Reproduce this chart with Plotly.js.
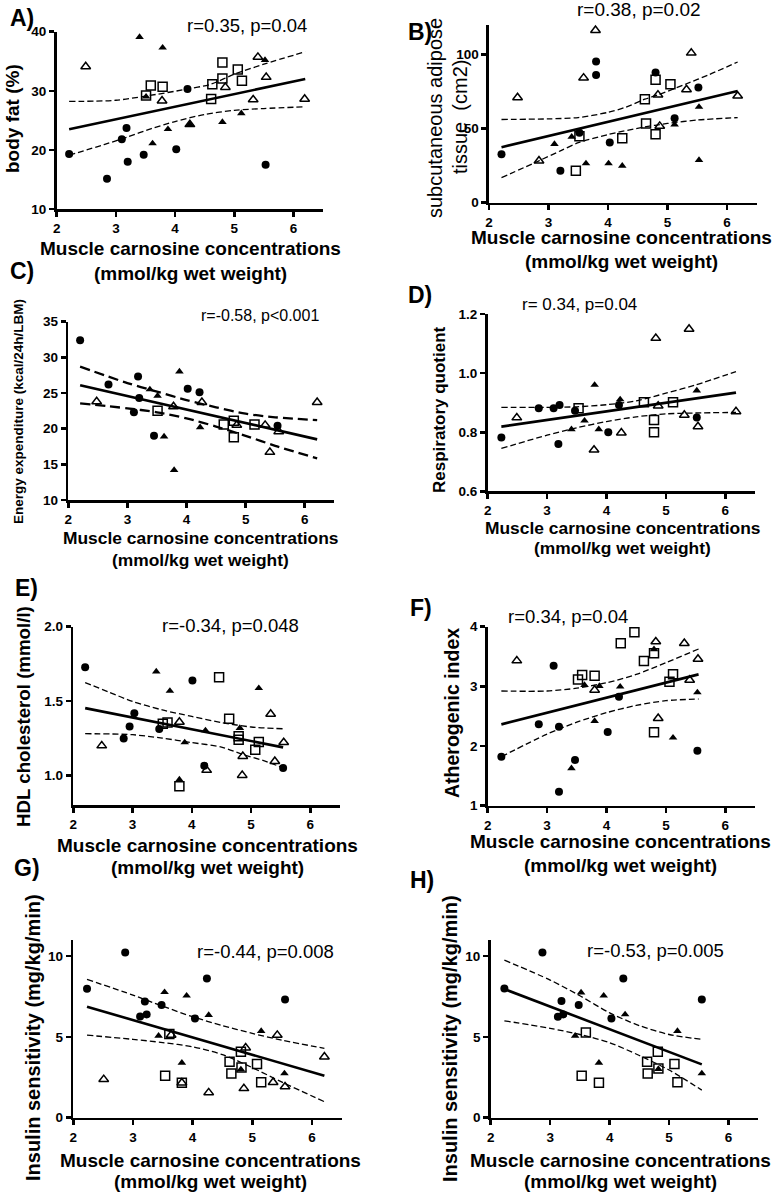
<!DOCTYPE html>
<html><head><meta charset="utf-8">
<script src="https://cdn.plot.ly/plotly-3.0.1.min.js"></script>
<style>html,body{margin:0;padding:0;background:#fff}#chart{width:780px;height:1193px}</style>
</head><body><div id="chart"></div>
<script>
// ===== DATA =====
// x = muscle carnosine (mmol/kg wet weight)
// A) body fat (%)
const aCircleX = [2.21,2.85,3.10,3.18,3.20,3.47,4.02,4.21,5.53];
const aCircleY = [19.3,15.1,21.8,23.7,18.0,19.2,20.1,30.3,17.5];
const aTriX = [3.40,3.79,3.51,3.62,3.88,4.25,4.80,5.12,5.52];
const aTriY = [39.1,37.3,29.0,21.1,23.5,24.3,24.7,26.2,35.2];
const aOpenTriX = [2.49,3.78,4.25,4.85,5.32,5.40,5.54,6.19];
const aOpenTriY = [34.1,28.3,24.3,30.6,28.5,35.7,32.3,28.6];
const aSquareX = [3.51,3.59,3.79,4.61,4.63,4.80,4.80,5.06,5.13];
const aSquareY = [29.2,30.9,30.7,28.6,31.1,34.8,32.1,33.6,31.7];
const aFitX = [2.21,6.20], aFitY = [23.5,32.0];
const aUpperX = [2.21,3.0,3.5,4.21,4.6,5.0,5.5,6.2], aUpperY = [28.2,28.4,29.1,30.3,31.1,32.8,34.5,36.6];
const aLowerX = [2.21,2.8,3.2,3.6,4.0,4.5,5.0,5.5,6.2], aLowerY = [19.1,20.9,22.2,23.6,24.8,26.0,26.7,27.0,27.3];

// B) subcutaneous adipose tissue (cm2)
const bCircleX = [2.21,3.20,3.52,3.80,3.80,4.03,4.80,5.12,5.52];
const bCircleY = [32.8,21.6,47.2,95.3,86.3,40.7,87.9,57.1,77.8];
const bTriX = [3.10,3.39,3.63,4.01,4.24,5.12,5.53,5.53];
const bTriY = [39.6,44.5,26.5,26.5,24.9,52.8,64.7,28.8];
const bOpenTriX = [2.48,2.84,3.59,3.79,4.84,4.87,5.32,5.40,6.18];
const bOpenTriY = [71.0,28.3,84.3,116.4,72.8,51.7,76.4,101.1,72.1];
const bSquareX = [3.46,3.52,4.24,4.62,4.64,4.80,4.80,5.05];
const bSquareY = [21.6,44.9,43.6,69.9,53.5,83.1,46.3,80.0];
const bFitX = [2.21,6.18], bFitY = [37.5,75.5];
const bUpperX = [2.21,3.0,3.5,4.0,4.3,4.62,4.84,5.3,5.7,6.18], bUpperY = [56.2,56.6,57.5,61.0,64.5,69.9,72.8,80.0,86.5,95.0];
const bLowerX = [2.21,2.84,3.2,3.5,4.0,4.6,5.0,5.5,6.18], bLowerY = [16.9,28.3,35.0,40.5,46.0,51.0,53.5,55.8,57.5];

// C) energy expenditure (kcal/24h/LBM)
const cCircleX = [2.20,2.68,3.18,3.20,3.11,3.45,4.02,4.22,5.54];
const cCircleY = [32.4,26.2,27.3,24.3,22.3,19.0,25.6,25.1,20.4];
const cTriX = [3.38,3.51,3.62,3.79,3.88,4.23];
const cTriY = [25.5,24.6,18.9,14.2,28.0,20.2];
const cOpenTriX = [2.48,3.78,4.26,4.85,5.33,5.41,5.56,6.21];
const cOpenTriY = [23.8,23.1,23.7,20.5,20.5,16.7,19.6,23.7];
const cSquareX = [3.51,4.63,4.80,4.80,5.15];
const cSquareY = [22.5,20.6,21.1,18.8,20.6];
const cFitX = [2.20,6.21], cFitY = [26.1,18.5];
const cUpperX = [2.2,3.0,3.5,4.0,4.5,5.0,5.5,6.21], cUpperY = [28.7,26.4,25.2,24.0,23.0,22.1,21.6,21.2];
const cLowerX = [2.2,3.0,3.5,4.0,4.5,5.0,5.5,6.21], cLowerY = [23.55,22.85,22.3,21.45,20.3,19.0,17.6,15.85];

// D) respiratory quotient
const dCircleX = [2.23,2.86,3.11,3.21,3.19,3.47,4.03,4.21,5.52];
const dCircleY = [0.782,0.881,0.881,0.892,0.760,0.873,0.800,0.892,0.850];
const dTriX = [3.41,3.63,3.80,3.87,4.23,5.52];
const dTriY = [0.810,0.839,0.960,0.810,0.911,0.941];
const dOpenTriX = [2.49,3.79,4.25,4.83,4.87,5.31,5.39,5.54,6.18];
const dOpenTriY = [0.849,0.740,0.798,1.118,0.889,0.858,1.149,0.819,0.870];
const dSquareX = [3.53,4.63,4.80,4.80,5.12];
const dSquareY = [0.881,0.901,0.841,0.800,0.901];
const dFitX = [2.23,6.18], dFitY = [0.819,0.934];
const dUpperX = [2.23,3.0,3.5,4.0,4.5,5.0,5.5,6.18], dUpperY = [0.884,0.884,0.886,0.893,0.906,0.932,0.960,1.005];
const dLowerX = [2.23,3.0,3.5,4.0,4.5,5.0,5.5,6.18], dLowerY = [0.745,0.790,0.815,0.836,0.852,0.862,0.865,0.867];

// E) HDL cholesterol (mmol/l)
const eCircleX = [2.20,2.85,2.95,3.03,3.45,4.01,4.21,5.54];
const eCircleY = [1.727,1.248,1.329,1.418,1.311,1.638,1.065,1.049];
const eTriX = [3.40,3.63,3.88,4.23,4.81,5.13,3.79];
const eTriY = [1.698,1.568,1.221,1.302,1.318,1.586,0.971];
const eOpenTriX = [2.48,3.79,4.25,4.85,4.86,5.40,5.33,5.55];
const eOpenTriY = [1.199,1.358,1.034,1.000,1.128,1.094,1.412,1.221];
const eSquareX = [3.51,3.59,3.79,4.46,4.63,4.79,4.79,5.07,5.13];
const eSquareY = [1.347,1.356,0.926,1.660,1.380,1.262,1.239,1.172,1.224];
const eFitX = [2.20,5.54], eFitY = [1.452,1.188];
const eUpperX = [2.2,2.6,3.0,3.5,4.0,4.5,5.0,5.54], eUpperY = [1.624,1.560,1.497,1.440,1.396,1.355,1.325,1.313];
const eLowerX = [2.2,3.0,3.5,4.0,4.5,4.86,5.2,5.54], eLowerY = [1.280,1.273,1.250,1.220,1.190,1.140,1.100,1.050];

// F) atherogenic index
const fCircleX = [2.23,2.86,3.11,3.20,3.20,3.47,4.02,4.21,5.53];
const fCircleY = [1.821,2.363,3.346,2.324,1.235,1.765,2.235,2.827,1.922];
const fTriX = [3.41,3.63,3.80,3.88,4.23,4.80,5.12,5.53];
const fTriY = [1.626,3.022,2.419,3.006,2.994,3.620,2.140,2.899];
const fOpenTriX = [2.49,3.80,4.83,4.87,5.31,5.40,5.54];
const fOpenTriY = [3.430,2.939,3.749,2.464,3.721,3.106,3.458];
const fSquareX = [3.52,3.59,3.80,4.24,4.47,4.63,4.80,4.80,5.06,5.12];
const fSquareY = [3.117,3.190,3.179,3.721,3.905,3.425,3.553,2.229,3.078,3.201];
const fFitX = [2.23,5.55], fFitY = [2.363,3.201];
const fUpperX = [2.23,3.0,3.5,4.0,4.5,5.0,5.55], fUpperY = [2.922,2.922,2.970,3.060,3.200,3.397,3.626];
const fLowerX = [2.23,3.0,3.5,4.0,4.5,5.0,5.55], fLowerY = [1.821,2.201,2.400,2.559,2.680,2.760,2.788];

// G) insulin sensitivity (mg/kg/min), all subjects
const gCircleX = [2.23,2.87,3.12,3.20,3.23,3.48,4.04,4.24,5.55];
const gCircleY = [7.98,10.23,6.27,7.20,6.39,6.97,6.14,8.62,7.32];
const gTriX = [3.43,3.53,3.82,3.90,4.27,4.81,5.15,5.54];
const gTriY = [5.07,7.77,3.40,7.55,6.35,2.99,5.36,2.74];
const gOpenTriX = [2.51,3.64,3.82,4.27,4.86,4.89,5.35,5.42,5.55,6.21];
const gOpenTriY = [2.37,5.11,2.16,1.55,1.81,4.33,2.19,5.11,1.92,3.77];
const gSquareX = [3.54,3.61,3.82,4.62,4.65,4.81,4.82,5.08,5.15];
const gSquareY = [2.60,5.18,2.16,3.46,2.74,4.08,3.11,3.32,2.19];
const gFitX = [2.23,6.21], gFitY = [6.87,2.60];
const gUpperX = [2.23,3.0,3.5,4.0,4.5,5.0,5.5,6.21], gUpperY = [8.56,7.59,6.90,6.25,5.70,5.22,4.80,4.29];
const gLowerX = [2.23,3.0,3.5,4.0,4.5,5.0,5.5,6.21], gLowerY = [5.11,4.85,4.65,4.39,3.90,3.10,2.20,0.99];

// H) insulin sensitivity (mg/kg/min), subset
const hCircleX = [2.23,2.87,3.13,3.19,3.22,3.48,4.03,4.23,5.55];
const hCircleY = [8.00,10.23,6.25,7.22,6.39,6.97,6.14,8.62,7.32];
const hTriX = [3.42,3.52,3.82,3.90,4.26,4.82,5.14,5.55];
const hTriY = [5.07,7.75,3.40,7.55,6.39,3.01,5.36,2.74];
const hOpenTriX = [], hOpenTriY = [];
const hSquareX = [3.53,3.60,3.82,4.63,4.64,4.81,4.82,5.09,5.14];
const hSquareY = [2.60,5.28,2.16,3.46,2.74,4.08,3.05,3.32,2.19];
const hFitX = [2.23,5.55], hFitY = [7.96,3.30];
const hUpperX = [2.23,3.0,3.5,4.0,4.5,5.0,5.55], hUpperY = [9.75,8.52,7.55,6.49,5.70,5.15,4.85];
const hLowerX = [2.23,3.0,3.5,4.0,4.5,5.0,5.55], hLowerY = [6.00,5.53,5.15,4.64,3.85,2.95,1.71];

// labels
const panelLetters = ['A)','B)','C)','D)','E)','F)','G)','H)'];
const statTexts = ['r=0.35, p=0.04','r=0.38, p=0.02','r=-0.58, p<0.001','r= 0.34, p=0.04',
                   'r=-0.34, p=0.048','r=0.34, p=0.04','r=-0.44, p=0.008','r=-0.53, p=0.005'];
const xTitle1 = 'Muscle carnosine concentrations';
const xTitle2 = '(mmol/kg wet weight)';
const yTitles = ['body fat (%)', null, 'Energy expenditure (kcal/24h/LBM)', 'Respiratory quotient',
                 'HDL cholesterol (mmol/l)', 'Atherogenic index', 'Insulin sensitivity (mg/kg/min)', 'Insulin sensitivity (mg/kg/min)'];
const yTitleB1 = 'subcutaneous adipose', yTitleB2 = 'tissue  (cm2)';
const xTicks = [2,3,4,5,6];
const yTickSets = [[10,20,30,40],[0,50,100],[10,15,20,25,30,35],[0.6,0.8,1.0,1.2],
                   [1.0,1.5,2.0],[1,2,3,4],[0,5,10],[0,5,10]];
const yTickDecimals = [0,0,0,1,1,0,0,0];

// ===== LAYOUT HELPERS =====
const W = 780, H = 1193;
const FONT = 'Liberation Sans, Arial, Helvetica, sans-serif';
const px = v => v / W, py = v => 1 - v / H;

const series = [
  {c:[aCircleX,aCircleY], t:[aTriX,aTriY], o:[aOpenTriX,aOpenTriY], s:[aSquareX,aSquareY], f:[aFitX,aFitY], u:[aUpperX,aUpperY], l:[aLowerX,aLowerY]},
  {c:[bCircleX,bCircleY], t:[bTriX,bTriY], o:[bOpenTriX,bOpenTriY], s:[bSquareX,bSquareY], f:[bFitX,bFitY], u:[bUpperX,bUpperY], l:[bLowerX,bLowerY]},
  {c:[cCircleX,cCircleY], t:[cTriX,cTriY], o:[cOpenTriX,cOpenTriY], s:[cSquareX,cSquareY], f:[cFitX,cFitY], u:[cUpperX,cUpperY], l:[cLowerX,cLowerY]},
  {c:[dCircleX,dCircleY], t:[dTriX,dTriY], o:[dOpenTriX,dOpenTriY], s:[dSquareX,dSquareY], f:[dFitX,dFitY], u:[dUpperX,dUpperY], l:[dLowerX,dLowerY]},
  {c:[eCircleX,eCircleY], t:[eTriX,eTriY], o:[eOpenTriX,eOpenTriY], s:[eSquareX,eSquareY], f:[eFitX,eFitY], u:[eUpperX,eUpperY], l:[eLowerX,eLowerY]},
  {c:[fCircleX,fCircleY], t:[fTriX,fTriY], o:[fOpenTriX,fOpenTriY], s:[fSquareX,fSquareY], f:[fFitX,fFitY], u:[fUpperX,fUpperY], l:[fLowerX,fLowerY]},
  {c:[gCircleX,gCircleY], t:[gTriX,gTriY], o:[gOpenTriX,gOpenTriY], s:[gSquareX,gSquareY], f:[gFitX,gFitY], u:[gUpperX,gUpperY], l:[gLowerX,gLowerY]},
  {c:[hCircleX,hCircleY], t:[hTriX,hTriY], o:[hOpenTriX,hOpenTriY], s:[hSquareX,hSquareY], f:[hFitX,hFitY], u:[hUpperX,hUpperY], l:[hLowerX,hLowerY]}
];

// pixel geometry of each panel (plot area) and text placement
const geo = [
  {x0:56.7, x1:323,   y0:31.7,  y1:209,   yr:[10,40],
   lab:[8,18], st:[246.7,25,18.5], xt:[190,248,273,19], yti:[12,119,19]},
  {x0:489,  x1:756.7, y0:25,    y1:202.7, yr:[0,120],
   lab:[406,32.5], st:[638.5,10,19], xt:[621,237.5,261.5,19], yti:null},
  {x0:68.3, x1:334.3, y0:321.7, y1:500,   yr:[10,35],
   lab:[8,271], st:[260,315,16], xt:[200.5,538,560,17.4], yti:[18,412,13.5], dash:'10px,5px', dw:2.3},
  {x0:487.7,x1:755,   y0:314,   y1:491.3, yr:[0.6,1.2],
   lab:[406,295], st:[579,305,17], xt:[622.5,528,548,17.4], yti:[439,410,17]},
  {x0:73.3, x1:340,   y0:626.7, y1:805,   yr:[0.8,2.0],
   lab:[13,588], st:[230.7,625,18.5], xt:[207.5,845,867,19], yti:[23,717,18.7]},
  {x0:487.7,x1:755,   y0:626.7, y1:805.7, yr:[1,4],
   lab:[408,608], st:[568,616.7,18.5], xt:[620.5,841,865,19], yti:[452,713,19.5]},
  {x0:73.3, x1:341.7, y0:940,   y1:1117.7,yr:[0,11],
   lab:[12,868], st:[265,951.7,18.5], xt:[210,1160,1181,19], yti:[33,1038,20]},
  {x0:490.7,x1:758.3, y0:940,   y1:1117.7,yr:[0,11],
   lab:[408,880], st:[655,950,18.5], xt:[620,1160,1181,19], yti:[450,1038,20]}
];

const traces = [];
const layout = {
  width: W, height: H, margin: {l:0, r:0, t:0, b:0},
  paper_bgcolor: '#fff', plot_bgcolor: '#fff', showlegend: false,
  font: {family: FONT, color: '#000'}, annotations: []
};

geo.forEach((g, i) => {
  const n = i === 0 ? '' : String(i + 1);
  const xa = 'x' + n, ya = 'y' + n;
  const S = series[i];
  const base = {xaxis: xa, yaxis: ya, cliponaxis: false, hoverinfo: 'skip'};
  const dash = g.dash || '6px,3px', dw = g.dw || 1.3;
  traces.push(Object.assign({x: S.u[0], y: S.u[1], mode: 'lines', line: {color:'#000', width: dw, dash: dash, shape:'spline', smoothing: 0.8}}, base));
  traces.push(Object.assign({x: S.l[0], y: S.l[1], mode: 'lines', line: {color:'#000', width: dw, dash: dash, shape:'spline', smoothing: 0.8}}, base));
  traces.push(Object.assign({x: S.f[0], y: S.f[1], mode: 'lines', line: {color:'#000', width: 2.6}}, base));
  traces.push(Object.assign({x: S.c[0], y: S.c[1], mode: 'markers', marker: {symbol:'circle', size: 8, color:'#000'}}, base));
  traces.push(Object.assign({x: S.t[0], y: S.t[1], mode: 'markers', marker: {symbol:'triangle-up', size: 7.5, color:'#000'}}, base));
  traces.push(Object.assign({x: S.o[0], y: S.o[1], mode: 'markers', marker: {symbol:'triangle-up-open', size: 8.5, color:'#000', line:{width:1.5, color:'#000'}}}, base));
  traces.push(Object.assign({x: S.s[0], y: S.s[1], mode: 'markers', marker: {symbol:'square-open', size: 9, color:'#000', line:{width:1.5, color:'#000'}}}, base));

  const axCommon = {showline: true, linewidth: 2.6, linecolor: '#000', ticks: 'outside', ticklen: 5,
    tickwidth: 2.6, tickcolor: '#000', showgrid: false, zeroline: false, fixedrange: true,
    tickfont: {family: FONT, size: 13.5, color: '#000'}};
  const yv = yTickSets[i];
  layout['xaxis' + n] = Object.assign({}, axCommon, {domain: [px(g.x0), px(g.x1)], range: [2, 6.5],
    tickmode: 'array', tickvals: xTicks, ticktext: xTicks.map(v => '<b>' + v + '</b>'), anchor: ya});
  layout['yaxis' + n] = Object.assign({}, axCommon, {domain: [py(g.y1), py(g.y0)], range: g.yr,
    tickmode: 'array', tickvals: yv, ticktext: yv.map(v => '<b>' + v.toFixed(yTickDecimals[i]) + '</b>'), anchor: xa});

  const A = layout.annotations;
  A.push({xref:'paper', yref:'paper', x: px(g.lab[0]), y: py(g.lab[1]), xanchor:'left', yanchor:'middle',
    text: '<b>' + panelLetters[i] + '</b>', showarrow:false, font:{family:FONT, size:23, color:'#000'}});
  A.push({xref:'paper', yref:'paper', x: px(g.st[0]), y: py(g.st[1]), xanchor:'center', yanchor:'middle',
    text: statTexts[i], showarrow:false, font:{family:FONT, size:g.st[2], color:'#000'}});
  A.push({xref:'paper', yref:'paper', x: px(g.xt[0]), y: py(g.xt[1]), xanchor:'center', yanchor:'middle',
    text: '<b>' + xTitle1 + '</b>', showarrow:false, font:{family:FONT, size:g.xt[3], color:'#000'}});
  A.push({xref:'paper', yref:'paper', x: px(g.xt[0]), y: py(g.xt[2]), xanchor:'center', yanchor:'middle',
    text: '<b>' + xTitle2 + '</b>', showarrow:false, font:{family:FONT, size:g.xt[3], color:'#000'}});
  if (g.yti) {
    A.push({xref:'paper', yref:'paper', x: px(g.yti[0]), y: py(g.yti[1]), xanchor:'center', yanchor:'middle',
      textangle: -90, text: '<b>' + yTitles[i] + '</b>', showarrow:false, font:{family:FONT, size:g.yti[2], color:'#000'}});
  }
});
// B) two-line regular-weight y title
layout.annotations.push({xref:'paper', yref:'paper', x: px(435), y: py(118), xanchor:'center', yanchor:'middle',
  textangle: -90, text: yTitleB1, showarrow:false, font:{family:FONT, size:20, color:'#000'}});
layout.annotations.push({xref:'paper', yref:'paper', x: px(460), y: py(117), xanchor:'center', yanchor:'middle',
  textangle: -90, text: yTitleB2, showarrow:false, font:{family:FONT, size:20, color:'#000'}});

Plotly.newPlot('chart', traces, layout, {displayModeBar: false, staticPlot: true});
</script>
</body></html>
